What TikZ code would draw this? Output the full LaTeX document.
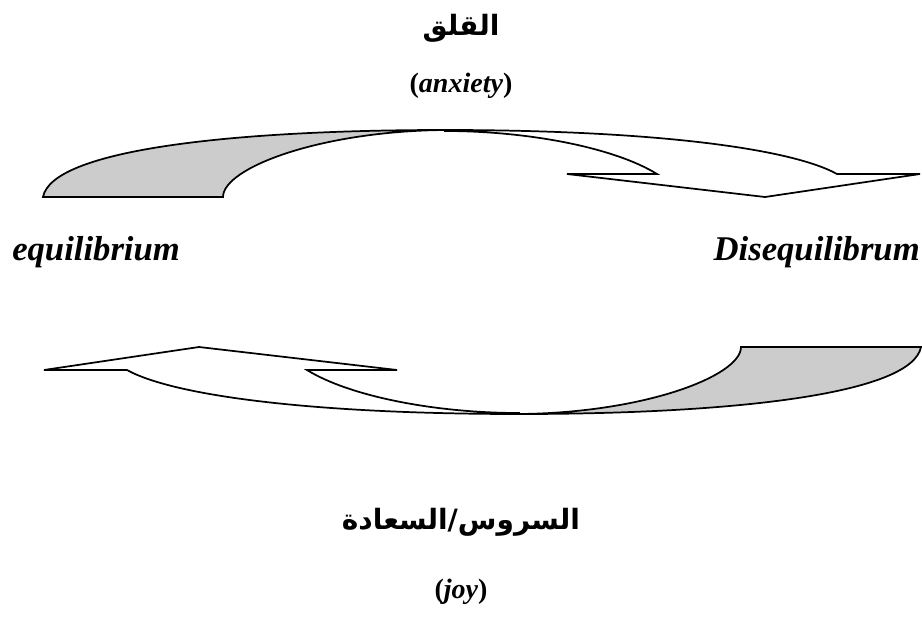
\documentclass[tikz,border=0pt]{standalone}
\usepackage{fontspec}
\setmainfont{Liberation Serif}
\newfontfamily\arabicfont[Script=Arabic]{DejaVu Sans}
\TeXXeTstate=1
\usetikzlibrary{arrows,positioning,calc}
\definecolor{shade}{RGB}{204,204,204}
\colorlet{backband}{shade}
\tikzset{band/.style={draw=black,line width=1.3pt,line join=miter}}
\tikzset{state/.style={font=\bfseries\itshape\fontsize{26}{30}\selectfont,inner sep=0pt}}
\tikzset{gloss/.style={font=\bfseries\fontsize{21}{25}\selectfont,inner sep=0pt}}
\tikzset{arab/.style={font=\arabicfont\bfseries\fontsize{21}{25}\selectfont,inner sep=0pt}}
\newcommand{\bentarrow}{%
    % underside of the band
    \filldraw [band,fill=backband] (43,197) .. controls (52,150) and (230,130) .. (445,130)
        .. controls (320,131) and (223,168) .. (223,197) -- cycle;
    % front of the band and its head
    \filldraw [band,fill=white] (445,130) .. controls (650,130) and (790,148) .. (837,174)
        -- (920,174) -- (765,197) -- (567,174) -- (657,174)
        .. controls (615,148) and (530,131) .. (445,131) -- cycle;
}
\begin{document}
\begin{tikzpicture}[x=0.75pt,y=-0.75pt]
    \useasboundingbox (0,0) rectangle (922,618);
    \node at (461,28) [arab] (anxar) {\beginR القلق\endR};
    \node at (461,86) [gloss] (anxen) {(\textit{anxiety})};
    \bentarrow
    \begin{scope}[rotate around={180:(482,272)}]
        \bentarrow
    \end{scope}
    \node at (12,260) [state,anchor=base west] (eq) {equilibrium};
    \node at (920,260) [state,anchor=base east] (diseq) {Disequilibrum};
    \node at (461,522) [arab] (joyar) {\beginR السروس/السعادة\endR};
    \node at (461,592) [gloss] (joyen) {(\textit{joy})};
\end{tikzpicture}
\end{document}
